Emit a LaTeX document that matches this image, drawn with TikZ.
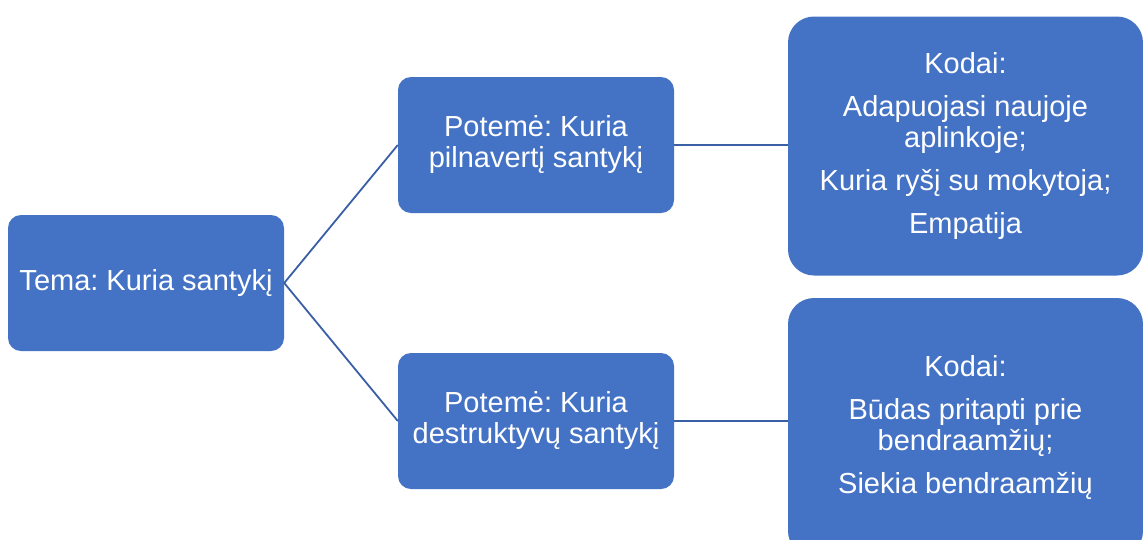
\documentclass[tikz,border=0pt]{standalone}
\usepackage{fontspec}
\setmainfont{Liberation Sans}
\frenchspacing
\definecolor{boxfill}{HTML}{4472C4}
\definecolor{linkcol}{HTML}{3A5FA5}
\begin{document}
\begin{tikzpicture}[x=1pt,y=-1pt,
  box/.style={fill=boxfill, draw=none, text=white, align=center,
    font=\fontsize{29}{31}\selectfont, inner sep=0pt},
  smallbox/.style={box, minimum width=276pt, minimum height=136pt, rounded corners=13pt},
  bigbox/.style={box, minimum width=355pt, minimum height=259pt, rounded corners=26pt},
  link/.style={draw=linkcol, line width=1.8pt}]
  \useasboundingbox (0,0) rectangle (1143,539);
  \clip (0,0) rectangle (1143,539);
  \fill[white] (0,0) rectangle (1143,539);

  % theme, sub-themes and codes
  \node[smallbox] (tema) at (146,283) {Tema: Kuria santykį};
  \node[smallbox] (pot1) at (536,145) {Potemė: Kuria\\pilnavertį santykį};
  \node[smallbox] (pot2) at (536,421) {Potemė: Kuria\\destruktyvų santykį};
  \node[bigbox] (kod1) at (965.5,146) {Kodai:\\[12pt]Adapuojasi naujoje\\aplinkoje;\\[12pt]Kuria ryšį su mokytoja;\\[12pt]Empatija};
  \node[bigbox] (kod2) at (965.5,427.5) {Kodai:\\[12pt]Būdas pritapti prie\\bendraamžių;\\[12pt]Siekia bendraamžių};

  % connectors
  \draw[link] (tema.east) -- (pot1.west);
  \draw[link] (tema.east) -- (pot2.west);
  \draw[link] (pot1.east) -- (pot1.east -| kod1.west);
  \draw[link] (pot2.east) -- (pot2.east -| kod2.west);
\end{tikzpicture}
\end{document}
